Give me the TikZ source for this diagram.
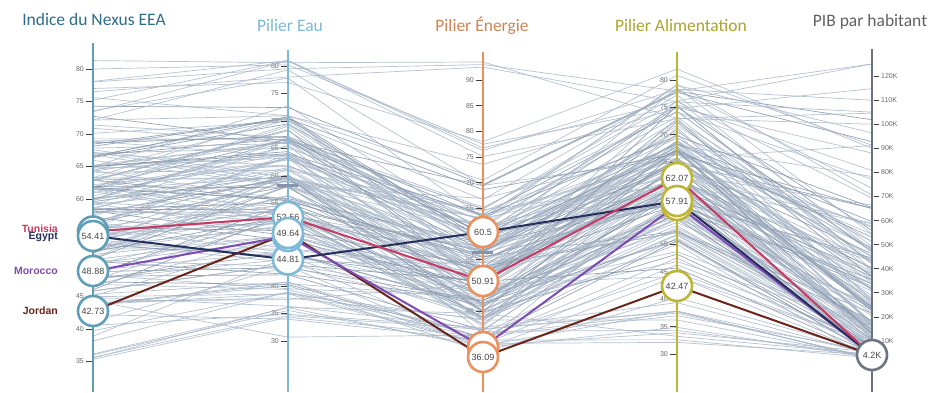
\documentclass[tikz,border=0pt]{standalone}
\usepackage{fontspec}
\setmainfont{Liberation Sans}
\newfontfamily\titlefont{Carlito}
\usepackage{xcolor}
\usetikzlibrary{positioning}

\definecolor{nexustitle}{HTML}{2C6C8C}
\definecolor{nexusaxis}{HTML}{5E9FB7}
\definecolor{eaublue}{HTML}{7DB9D9}
\definecolor{energieorange}{HTML}{E8915E}
\definecolor{alimolive}{HTML}{BDB535}
\definecolor{pibgray}{HTML}{6C7382}
\definecolor{lightline}{HTML}{A9B7C9}
\definecolor{darkline}{HTML}{8594A9}
\definecolor{tunisiared}{HTML}{C73A62}
\definecolor{egyptnavy}{HTML}{262F5C}
\definecolor{moroccopurple}{HTML}{7E4BB4}
\definecolor{jordanbrown}{HTML}{6A2418}

% value -> y position on each axis
\newcommand{\nexusy}[1]{69+(80-#1)*6.5}
\newcommand{\eauy}[1]{66+(80-#1)*5.5}
\newcommand{\energiey}[1]{80+(90-#1)*5.14}
\newcommand{\alimy}[1]{80+(80-#1)*5.48}
\newcommand{\piby}[1]{76+(120-#1)*2.41}

\begin{document}
\begin{tikzpicture}[x=1pt,y=-1pt]
\tikzstyle{axisline} = [line width=2.4pt];
\tikzstyle{tickmark} = [black!75, line width=0.9pt];
\tikzstyle{ticklabel} = [font=\fontsize{7}{8}\selectfont, text=black!60, inner sep=0pt];
\tikzstyle{heading} = [font=\titlefont\fontsize{17.5}{20}\selectfont, anchor=base, inner sep=0pt];
\tikzstyle{valuebox} = [circle, fill=white, line width=2.6pt, minimum size=30pt, inner sep=0pt, font=\fontsize{9}{10}\selectfont, text=black!72];
\tikzstyle{country} = [font=\bfseries\fontsize{10.5}{12}\selectfont, inner sep=0pt];
\tikzstyle{datalight} = [lightline, line width=0.7pt, opacity=0.85];
\tikzstyle{datadark} = [darkline, line width=0.7pt, opacity=0.85];
\tikzstyle{pick} = [line width=2pt, line join=round];

\useasboundingbox (0,0) rectangle (929,392);

% tick labels (under the data lines, hidden ones left out)
\foreach \v in {35,40,45,60,65,70,75,80}{
  \node[ticklabel, anchor=east] at (84,{\nexusy{\v}}) {\v};
}
\foreach \v in {30,35,40,55,60,...,80}{
  \node[ticklabel, anchor=east] at (279,{\eauy{\v}}) {\v};
}
\foreach \v in {40,45,55,65,70,...,90}{
  \node[ticklabel, anchor=east] at (474,{\energiey{\v}}) {\v};
}
\foreach \v in {30,35,40,45,50,55,65,70,75,80}{
  \node[ticklabel, anchor=east] at (668,{\alimy{\v}}) {\v};
}
\foreach \v in {10,20,...,120}{
  \node[ticklabel, anchor=west] at (881,{\piby{\v}}) {\v K};
}

% the other countries
\pgfmathsetseed{4321}
\foreach \i in {1,...,150}{
  \pgfmathsetmacro{\q}{0.35*rnd+0.65*(rnd+rnd)/2}
  \pgfmathsetmacro{\va}{35+46*\q}
  \pgfmathsetmacro{\vb}{29+52*min(1,max(0,0.12+0.85*\q+0.35*(rnd-0.5)))}
  \pgfmathsetmacro{\vc}{37+56*min(1,max(0,0.7*\q*\q+0.25*rnd-0.03))}
  \pgfmathsetmacro{\vd}{29+54*min(1,max(0,0.3+0.65*\q+0.35*(rnd-0.5)))}
  \pgfmathsetmacro{\ve}{1+124*min(1,max(0,1.3*\q*\q*\q+0.12*rnd*rnd))}
  \pgfmathsetmacro{\shade}{mod(\i,4)==0 ? 1 : 0}
  \ifdim\shade pt>0.5pt \tikzset{datastyle/.style={datadark}}\else\tikzset{datastyle/.style={datalight}}\fi
  \draw[datastyle] (93,{\nexusy{\va}}) -- (288,{\eauy{\vb}}) -- (483,{\energiey{\vc}})
    -- (677,{\alimy{\vd}}) -- (872,{\piby{\ve}});
}
% low end
\foreach \i in {1,...,14}{
  \pgfmathsetmacro{\va}{35+10*rnd}
  \pgfmathsetmacro{\vb}{28+14*rnd}
  \pgfmathsetmacro{\vc}{37+8*rnd}
  \pgfmathsetmacro{\vd}{29+12*rnd}
  \pgfmathsetmacro{\ve}{1+5*rnd}
  \draw[datalight] (93,{\nexusy{\va}}) -- (288,{\eauy{\vb}}) -- (483,{\energiey{\vc}})
    -- (677,{\alimy{\vd}}) -- (872,{\piby{\ve}});
}
% top end
\foreach \va/\vb/\vc/\vd/\ve in {81.3/80.6/93.5/73/100, 78/79.5/93/78/125, 76.5/78/92.5/76/105, 77/77/78/82/90, 80/80.2/77.5/75/88}{
  \draw[datalight] (93,{\nexusy{\va}}) -- (288,{\eauy{\vb}}) -- (483,{\energiey{\vc}})
    -- (677,{\alimy{\vd}}) -- (872,{\piby{\ve}});
}

% axes
\coordinate (nexustop) at (93,43);   \coordinate (nexusbot) at (93,392);
\coordinate (eautop) at (288,50);    \coordinate (eaubot) at (288,392);
\coordinate (energietop) at (483,52); \coordinate (energiebot) at (483,392);
\coordinate (alimtop) at (677,52);   \coordinate (alimbot) at (677,392);
\coordinate (pibtop) at (872,49);    \coordinate (pibbot) at (872,392);
\draw[axisline, nexusaxis] (nexustop) -- (nexusbot);
\draw[axisline, eaublue] (eautop) -- (eaubot);
\draw[axisline, energieorange] (energietop) -- (energiebot);
\draw[axisline, alimolive] (alimtop) -- (alimbot);
\draw[axisline, pibgray] (pibtop) -- (pibbot);

% tick marks
\foreach \v in {35,40,...,80}{
  \draw[tickmark] (86,{\nexusy{\v}}) -- (91.5,{\nexusy{\v}});
}
\foreach \v in {30,35,...,80}{
  \draw[tickmark] (281,{\eauy{\v}}) -- (286.5,{\eauy{\v}});
}
\foreach \v in {40,45,...,90}{
  \draw[tickmark] (476,{\energiey{\v}}) -- (481.5,{\energiey{\v}});
}
\foreach \v in {30,35,...,80}{
  \draw[tickmark] (670,{\alimy{\v}}) -- (675.5,{\alimy{\v}});
}
\foreach \v in {10,20,...,120}{
  \draw[tickmark] (873.5,{\piby{\v}}) -- (879,{\piby{\v}});
}
\draw[darkline, line width=3pt] (277,185) -- (298,185);
\draw[darkline, line width=3pt] (472,252) -- (493,252);

% highlighted countries
\coordinate (tunA) at (93,231.5); \coordinate (tunB) at (288,217); \coordinate (tunC) at (483,281);
\coordinate (tunD) at (677,178);  \coordinate (tunE) at (872,355);
\coordinate (egyA) at (93,236);   \coordinate (egyB) at (288,259.5); \coordinate (egyC) at (483,232);
\coordinate (egyD) at (677,201);  \coordinate (egyE) at (872,355);
\coordinate (morA) at (93,271);   \coordinate (morB) at (288,236); \coordinate (morC) at (483,347);
\coordinate (morD) at (677,205);  \coordinate (morE) at (872,355);
\coordinate (jorA) at (93,311);   \coordinate (jorB) at (288,233); \coordinate (jorC) at (483,357);
\coordinate (jorD) at (677,286);  \coordinate (jorE) at (872,355);

\draw[pick, jordanbrown] (jorA) -- (jorB) -- (jorC) -- (jorD) -- (jorE);
\draw[pick, moroccopurple] (morA) -- (morB) -- (morC) -- (morD) -- (morE);
\draw[pick, egyptnavy] (egyA) -- (egyB) -- (egyC) -- (egyD) -- (egyE);
\draw[pick, tunisiared] (tunA) -- (tunB) -- (tunC) -- (tunD) -- (tunE);

% value circles
\node[valuebox, draw=nexusaxis] (tunAbox) at (tunA) {};
\node[valuebox, draw=nexusaxis] (egyAbox) at (egyA) {54.41};
\node[valuebox, draw=nexusaxis] (morAbox) at (morA) {48.88};
\node[valuebox, draw=nexusaxis] (jorAbox) at (jorA) {42.73};

\node[valuebox, draw=eaublue] (tunBbox) at (tunB) {52.56};
\node[valuebox, draw=eaublue] (egyBbox) at (egyB) {44.81};
\node[valuebox, draw=eaublue] (morBbox) at (morB) {};
\node[valuebox, draw=eaublue] (jorBbox) at (jorB) {49.64};

\node[valuebox, draw=energieorange] (egyCbox) at (egyC) {60.5};
\node[valuebox, draw=energieorange] (tunCbox) at (tunC) {50.91};
\node[valuebox, draw=energieorange] (morCbox) at (morC) {};
\node[valuebox, draw=energieorange] (jorCbox) at (jorC) {36.09};

\node[valuebox, draw=alimolive] (tunDbox) at (tunD) {62.07};
\node[valuebox, draw=alimolive] (morDbox) at (morD) {};
\node[valuebox, draw=alimolive] (egyDbox) at (egyD) {57.91};
\node[valuebox, draw=alimolive] (jorDbox) at (jorD) {42.47};

\node[valuebox, draw=pibgray] (egyEbox) at (egyE) {4.2K};

% country names
\node[country, tunisiared, left=35pt of tunAbox.center, yshift=3pt] (tunname) {Tunisia};
\node[country, egyptnavy, left=35pt of egyAbox.center, yshift=-0.5pt] (egyname) {Egypt};
\node[country, moroccopurple, left=35pt of morAbox.center] (morname) {Morocco};
\node[country, jordanbrown, left=35pt of jorAbox.center] (jorname) {Jordan};

% headings
\node[heading, nexustitle] (nexushead) at (94,25) {Indice du Nexus EEA};
\node[heading, eaublue] (eauhead) at (290,31) {Pilier Eau};
\node[heading, energieorange!90!black] (energiehead) at (482,31) {Pilier Énergie};
\node[heading, alimolive!90!black] (alimhead) at (681,31) {Pilier Alimentation};
\node[heading, black!62] (pibhead) at (870,26) {PIB par habitant};
\end{tikzpicture}
\end{document}
